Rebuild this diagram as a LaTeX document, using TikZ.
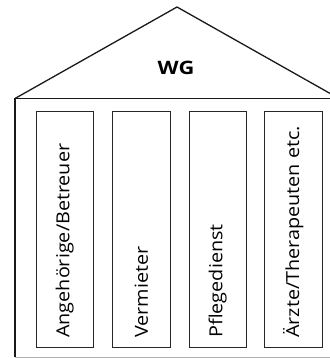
\documentclass[tikz,border=0pt]{standalone}
\usepackage{fontspec}
\setmainfont{Open Sans}[FakeStretch=1.1]
\newfontfamily\wgfont{Open Sans}[FakeStretch=1.18]
\begin{document}
\begin{tikzpicture}[x=1pt,y=-1pt,
  houseline/.style={line width=1.3pt,black!90},
  pillar/.style={draw=black!85,line width=0.9pt},
  pillartext/.style={rotate=90,anchor=west,inner sep=0pt,font=\fontsize{18}{20}\selectfont},
]
\useasboundingbox (0,0) rectangle (329,358);
\coordinate (apex) at (177,7);
\coordinate (eaveL) at (15,98.5);
\coordinate (eaveR) at (339,98.5);
\coordinate (baseL) at (15,357);
\coordinate (baseR) at (339,357);
\draw[houseline] (eaveL) -- (apex) -- (eaveR);
\draw[houseline] (eaveL) -- (eaveR);
\draw[line width=2pt,black!90] (eaveL) -- (baseL);
\draw[line width=0.8pt,black!30] (baseL) -- (baseR);
\node[font=\wgfont\bfseries\fontsize{18.5}{20}\selectfont] (wg) at (176,68) {WG};
\foreach \i/\x/\t in {1/36/{Angehörige/Betreuer},2/112.5/{Vermieter},3/189/{Pflegedienst},4/264.5/{Ärzte/Therapeuten etc.}}{
  \draw[pillar] (\x,111) rectangle ++(57.5,236);
  \node[pillartext] (t\i) at (\x+28.75,338) {\t};
}
\end{tikzpicture}
\end{document}
